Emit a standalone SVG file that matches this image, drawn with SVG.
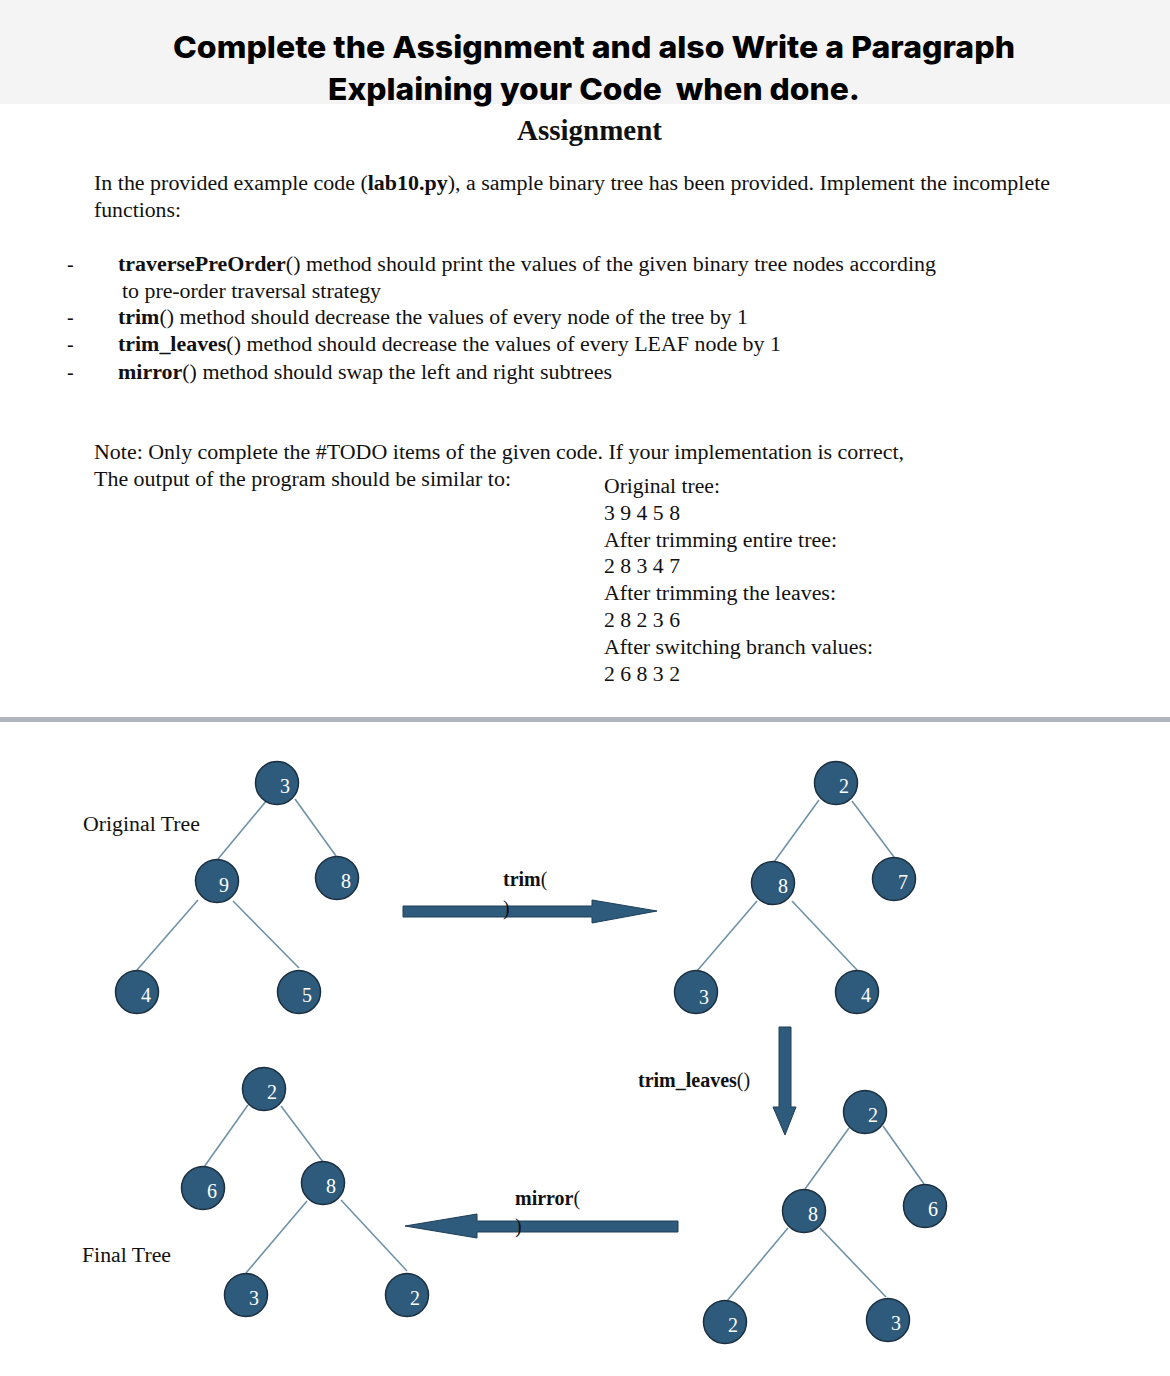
<svg xmlns="http://www.w3.org/2000/svg" width="1170" height="1376" viewBox="0 0 1170 1376">
<style>
.title{font-family:Inter,"Open Sans",sans-serif;font-weight:800;font-size:30px;fill:#000}
.serif{font-family:"Liberation Serif","Times New Roman",serif;font-size:20px;fill:#111}
.lbl{font-family:"Liberation Serif","Times New Roman",serif;font-weight:bold;font-size:20px;fill:#111}
.b{font-weight:bold}
.n{font-weight:normal}
.node circle{fill:#2e5b7b;stroke:#1b2f40;stroke-width:1.5}
.node text{font-family:"Liberation Serif","Times New Roman",serif;font-size:20px;fill:#fff}
.edge{stroke:#6f92a8;stroke-width:1.6;fill:none}
.arrow{fill:#2e5b7b;stroke:#1f3f58;stroke-width:1}
</style>
<rect x="0" y="0" width="1170" height="104" fill="#f4f4f4"/>
<text class="title" x="173" y="58" textLength="842" lengthAdjust="spacingAndGlyphs">Complete the Assignment and also Write a Paragraph</text>
<text class="title" x="328" y="100" textLength="532" lengthAdjust="spacingAndGlyphs">Explaining your Code&#160; when done.</text>
<text class="serif b" x="517" y="140" style="font-size:29px" textLength="145" lengthAdjust="spacingAndGlyphs">Assignment</text>

<text class="serif" x="94" y="190" textLength="956" lengthAdjust="spacingAndGlyphs">In the provided example code (<tspan class="b">lab10.py</tspan>), a sample binary tree has been provided. Implement the incomplete</text>
<text class="serif" x="94" y="217" textLength="87" lengthAdjust="spacingAndGlyphs">functions:</text>

<text class="serif" x="67" y="271">-</text>
<text class="serif" x="118" y="271" textLength="818" lengthAdjust="spacingAndGlyphs"><tspan class="b">traversePreOrder</tspan>() method should print the values of the given binary tree nodes according</text>
<text class="serif" x="122" y="298" textLength="259" lengthAdjust="spacingAndGlyphs">to pre-order traversal strategy</text>
<text class="serif" x="67" y="324">-</text>
<text class="serif" x="118" y="324" textLength="630" lengthAdjust="spacingAndGlyphs"><tspan class="b">trim</tspan>() method should decrease the values of every node of the tree by 1</text>
<text class="serif" x="67" y="351">-</text>
<text class="serif" x="118" y="351" textLength="663" lengthAdjust="spacingAndGlyphs"><tspan class="b">trim_leaves</tspan>() method should decrease the values of every LEAF node by 1</text>
<text class="serif" x="67" y="379">-</text>
<text class="serif" x="118" y="379" textLength="494" lengthAdjust="spacingAndGlyphs"><tspan class="b">mirror</tspan>() method should swap the left and right subtrees</text>

<text class="serif" x="94" y="459" textLength="810" lengthAdjust="spacingAndGlyphs">Note: Only complete the #TODO items of the given code. If your implementation is correct,</text>
<text class="serif" x="94" y="486" textLength="417" lengthAdjust="spacingAndGlyphs">The output of the program should be similar to:</text>
<text class="serif" x="604" y="493" textLength="116" lengthAdjust="spacingAndGlyphs">Original tree:</text>
<text class="serif" x="604" y="520" textLength="76" lengthAdjust="spacingAndGlyphs">3 9 4 5 8</text>
<text class="serif" x="604" y="547" textLength="233" lengthAdjust="spacingAndGlyphs">After trimming entire tree:</text>
<text class="serif" x="604" y="573" textLength="76" lengthAdjust="spacingAndGlyphs">2 8 3 4 7</text>
<text class="serif" x="604" y="600" textLength="232" lengthAdjust="spacingAndGlyphs">After trimming the leaves:</text>
<text class="serif" x="604" y="627" textLength="76" lengthAdjust="spacingAndGlyphs">2 8 2 3 6</text>
<text class="serif" x="604" y="654" textLength="269" lengthAdjust="spacingAndGlyphs">After switching branch values:</text>
<text class="serif" x="604" y="681" textLength="76" lengthAdjust="spacingAndGlyphs">2 6 8 3 2</text>

<rect x="0" y="717" width="1170" height="5" fill="#b0b4bd"/>

<text class="serif" x="83" y="831" textLength="117" lengthAdjust="spacingAndGlyphs">Original Tree</text>
<text class="serif" x="82" y="1262" textLength="89" lengthAdjust="spacingAndGlyphs">Final Tree</text>

<g id="connectors">
  <line class="edge" x1="267" y1="800" x2="218" y2="859"/>
  <line class="edge" x1="295" y1="799" x2="336" y2="856"/>
  <line class="edge" x1="198" y1="900" x2="137" y2="970"/>
  <line class="edge" x1="233" y1="901" x2="299" y2="968"/>

  <line class="edge" x1="819" y1="800" x2="774" y2="862"/>
  <line class="edge" x1="852" y1="801" x2="894" y2="857"/>
  <line class="edge" x1="757" y1="901" x2="697" y2="971"/>
  <line class="edge" x1="792" y1="901" x2="857" y2="970"/>

  <line class="edge" x1="849" y1="1128" x2="805" y2="1189"/>
  <line class="edge" x1="883" y1="1126" x2="924" y2="1184"/>
  <line class="edge" x1="788" y1="1228" x2="727" y2="1301"/>
  <line class="edge" x1="820" y1="1228" x2="886" y2="1297"/>

  <line class="edge" x1="248" y1="1105" x2="204" y2="1167"/>
  <line class="edge" x1="281" y1="1106" x2="323" y2="1162"/>
  <line class="edge" x1="307" y1="1201" x2="246" y2="1273"/>
  <line class="edge" x1="341" y1="1200" x2="407" y2="1271"/>

  <g id="arrow-trim">
    <polygon class="arrow" points="403,906 592,906 592,900 657,911 592,923 592,917 403,917"/>
    <text class="lbl" x="503" y="886">trim<tspan class="n">(</tspan></text>
    <text class="lbl n" x="503" y="915">)</text>
  </g>
  <g id="arrow-trim-leaves">
    <polygon class="arrow" points="779,1027 791,1027 791,1107 796,1107 785,1135 773,1107 779,1107"/>
    <text class="lbl" x="638" y="1087">trim_leaves<tspan class="n">()</tspan></text>
  </g>
  <g id="arrow-mirror">
    <polygon class="arrow" points="678,1221 678,1232 477,1232 477,1238 405,1226 477,1214 477,1221"/>
    <text class="lbl" x="515" y="1205">mirror<tspan class="n">(</tspan></text>
    <text class="lbl n" x="515" y="1233">)</text>
  </g>
</g>

<g id="t1-n3" class="node"><circle cx="277" cy="783" r="21.5"/><text x="280" y="793">3</text></g>
<g id="t1-n9" class="node"><circle cx="217" cy="881" r="21.5"/><text x="219" y="892">9</text></g>
<g id="t1-n8" class="node"><circle cx="337" cy="878" r="21.5"/><text x="341" y="888">8</text></g>
<g id="t1-n4" class="node"><circle cx="137" cy="992" r="21.5"/><text x="141" y="1002">4</text></g>
<g id="t1-n5" class="node"><circle cx="299" cy="992" r="21.5"/><text x="302" y="1002">5</text></g>

<g id="t2-n2" class="node"><circle cx="836" cy="783" r="21.5"/><text x="839" y="793">2</text></g>
<g id="t2-n8" class="node"><circle cx="773" cy="883" r="21.5"/><text x="778" y="893">8</text></g>
<g id="t2-n7" class="node"><circle cx="894" cy="879" r="21.5"/><text x="898" y="889">7</text></g>
<g id="t2-n3" class="node"><circle cx="696" cy="992" r="21.5"/><text x="699" y="1004">3</text></g>
<g id="t2-n4" class="node"><circle cx="857" cy="992" r="21.5"/><text x="861" y="1002">4</text></g>

<g id="t3-n2" class="node"><circle cx="865" cy="1112" r="21.5"/><text x="868" y="1122">2</text></g>
<g id="t3-n8" class="node"><circle cx="804" cy="1211" r="21.5"/><text x="808" y="1221">8</text></g>
<g id="t3-n6" class="node"><circle cx="925" cy="1206" r="21.5"/><text x="928" y="1216">6</text></g>
<g id="t3-n2b" class="node"><circle cx="725" cy="1322" r="21.5"/><text x="728" y="1332">2</text></g>
<g id="t3-n3" class="node"><circle cx="888" cy="1320" r="21.5"/><text x="891" y="1330">3</text></g>

<g id="t4-n2" class="node"><circle cx="264" cy="1089" r="21.5"/><text x="267" y="1099">2</text></g>
<g id="t4-n6" class="node"><circle cx="203" cy="1188" r="21.5"/><text x="207" y="1198">6</text></g>
<g id="t4-n8" class="node"><circle cx="323" cy="1183" r="21.5"/><text x="326" y="1193">8</text></g>
<g id="t4-n3" class="node"><circle cx="246" cy="1295" r="21.5"/><text x="249" y="1305">3</text></g>
<g id="t4-n2b" class="node"><circle cx="407" cy="1295" r="21.5"/><text x="410" y="1305">2</text></g>
</svg>
